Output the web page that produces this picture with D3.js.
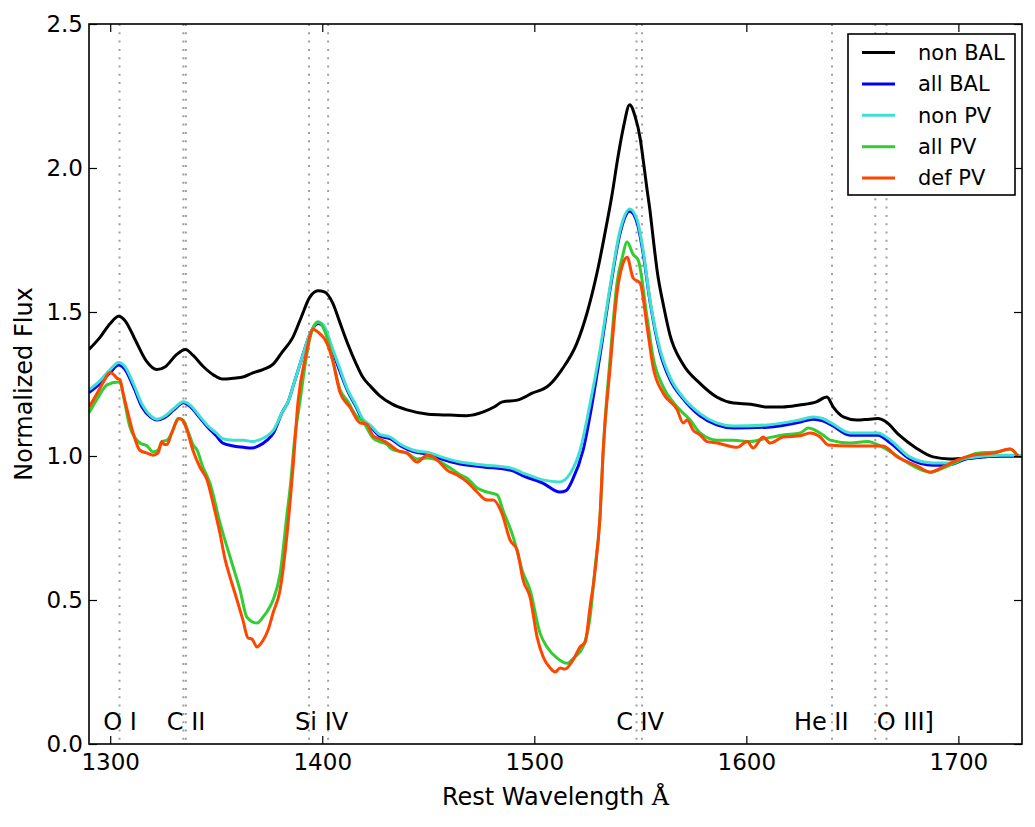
<!DOCTYPE html>
<html lang="en">
<head>
  <meta charset="UTF-8">
  <title>Composite spectra</title>
  <script src="https://cdn.jsdelivr.net/npm/d3@7"></script>
  <style>
    body { margin: 0; background: #fff; }
    text { font-family: "DejaVu Sans", sans-serif; fill: #000; }
  </style>
</head>
<body>
<svg id="chart" width="1035" height="827"></svg>
<script>
// [rest wavelength (A), normalized flux]
const nonBAL = [[1290,1.37],[1295,1.41],[1300,1.46],[1304,1.485],[1307,1.47],[1312,1.40],[1317,1.33],[1322,1.30],[1326,1.31],[1331,1.35],[1335.5,1.37],[1339,1.35],[1344,1.31],[1349,1.28],[1353,1.267],[1358,1.27],[1363,1.275],[1367,1.288],[1372,1.30],[1377,1.32],[1381,1.36],[1386,1.41],[1390,1.48],[1394,1.55],[1398,1.574],[1401,1.57],[1405,1.53],[1408,1.47],[1412,1.39],[1416,1.32],[1419,1.275],[1423,1.24],[1427,1.21],[1433,1.18],[1440,1.16],[1450,1.145],[1460,1.142],[1468,1.14],[1476,1.153],[1481,1.17],[1485,1.188],[1492,1.194],[1499,1.218],[1507,1.246],[1513,1.30],[1520,1.39],[1525,1.50],[1530,1.65],[1534,1.80],[1536.5,1.90],[1539.5,2.04],[1542,2.14],[1545,2.22],[1547.5,2.18],[1550,2.10],[1551.5,2.02],[1553,1.935],[1554.6,1.85],[1556,1.76],[1558,1.64],[1561,1.52],[1564,1.42],[1570,1.32],[1578,1.253],[1586,1.205],[1594,1.184],[1602,1.18],[1610,1.17],[1617,1.17],[1625,1.177],[1633,1.188],[1638,1.205],[1641,1.17],[1646,1.135],[1652,1.125],[1658,1.128],[1662,1.13],[1666,1.118],[1672,1.073],[1680,1.028],[1688,0.997],[1696,0.99],[1705,0.993],[1712,0.997],[1720,1.0],[1730,1.0]];

const allBAL = [[1290,1.22],[1295,1.25],[1300,1.29],[1304,1.316],[1307,1.30],[1311,1.24],[1315,1.17],[1319,1.135],[1322,1.125],[1326,1.135],[1330,1.16],[1334.5,1.185],[1338,1.17],[1342,1.135],[1346,1.10],[1350,1.07],[1353,1.045],[1358,1.035],[1363,1.03],[1367,1.028],[1370,1.035],[1374,1.055],[1377,1.08],[1381,1.15],[1384,1.19],[1387,1.26],[1390,1.33],[1394,1.42],[1398,1.46],[1401,1.445],[1404,1.385],[1408,1.30],[1412,1.225],[1416,1.17],[1419,1.125],[1423,1.10],[1427,1.07],[1432,1.06],[1437,1.035],[1443,1.015],[1451,1.005],[1456,0.99],[1465,0.972],[1476,0.962],[1489,0.95],[1495,0.93],[1504,0.906],[1512,0.875],[1515,0.88],[1518,0.917],[1523,1.02],[1527,1.17],[1531,1.35],[1536,1.59],[1540.5,1.775],[1545,1.85],[1548.5,1.81],[1551.3,1.705],[1554.6,1.535],[1559.3,1.36],[1564,1.265],[1570,1.20],[1578,1.14],[1586,1.108],[1594,1.097],[1610,1.10],[1625,1.117],[1631.5,1.128],[1636,1.122],[1640,1.108],[1649,1.072],[1662,1.072],[1668,1.045],[1677,0.99],[1688,0.968],[1696,0.97],[1704,0.99],[1720,1.0],[1730,1.0]];

const nonPV = [[1290,1.23],[1295,1.26],[1300,1.30],[1304,1.325],[1307,1.31],[1311,1.25],[1315,1.18],[1319,1.14],[1322,1.128],[1326,1.14],[1330,1.165],[1334.5,1.188],[1338,1.175],[1342,1.14],[1346,1.105],[1350,1.08],[1353,1.06],[1358,1.055],[1363,1.055],[1367,1.05],[1370,1.055],[1374,1.07],[1377,1.09],[1381,1.15],[1384,1.19],[1387,1.26],[1390,1.33],[1394,1.42],[1398,1.465],[1401,1.45],[1404,1.39],[1408,1.31],[1412,1.23],[1416,1.175],[1419,1.13],[1423,1.105],[1427,1.075],[1432,1.066],[1437,1.04],[1443,1.02],[1451,1.01],[1456,0.997],[1465,0.979],[1476,0.969],[1489,0.958],[1495,0.94],[1504,0.917],[1512,0.91],[1517,0.94],[1521.6,1.02],[1526,1.17],[1531,1.368],[1536,1.60],[1540.5,1.785],[1545,1.858],[1548.5,1.82],[1551.3,1.715],[1554.6,1.54],[1559.3,1.37],[1564,1.274],[1570,1.205],[1578,1.148],[1586,1.115],[1594,1.104],[1610,1.108],[1625,1.125],[1631.5,1.135],[1636,1.13],[1640,1.115],[1649,1.08],[1662,1.08],[1668,1.055],[1677,0.997],[1688,0.976],[1696,0.976],[1704,0.993],[1720,1.003],[1730,1.003]];

const allPV = [[1290,1.15],[1294,1.20],[1298.5,1.247],[1303.7,1.257],[1305,1.25],[1307,1.18],[1309.3,1.10],[1312,1.06],[1314,1.045],[1317.4,1.035],[1320.2,1.014],[1322.5,1.02],[1324.4,1.05],[1326.8,1.055],[1329,1.08],[1332,1.13],[1334.3,1.125],[1337,1.08],[1339,1.04],[1341,1.02],[1343.8,0.96],[1345.7,0.93],[1347,0.906],[1351.8,0.767],[1356.5,0.65],[1361.2,0.535],[1364.5,0.44],[1369.2,0.42],[1372,0.44],[1374,0.46],[1376.8,0.50],[1380.1,0.59],[1383.4,0.80],[1385,0.90],[1387,1.06],[1389.5,1.19],[1392,1.32],[1394.2,1.41],[1398,1.465],[1402.3,1.41],[1405,1.33],[1408.4,1.23],[1412,1.19],[1416,1.14],[1419.2,1.12],[1424,1.062],[1427,1.05],[1430.6,1.04],[1432,1.028],[1436.7,1.015],[1440,1.01],[1444.7,0.99],[1449.4,0.993],[1452.3,0.99],[1455.6,0.98],[1460,0.96],[1465,0.935],[1468.3,0.923],[1473,0.889],[1477.7,0.875],[1482.5,0.865],[1485.3,0.81],[1490,0.72],[1494.7,0.594],[1498,0.535],[1502.7,0.385],[1506,0.337],[1510.8,0.298],[1515.5,0.28],[1518.3,0.297],[1523,0.337],[1526.3,0.44],[1528.7,0.615],[1531,0.79],[1532.5,1.02],[1536,1.36],[1539,1.60],[1541.5,1.69],[1543.8,1.743],[1546.6,1.70],[1549,1.68],[1553.2,1.48],[1556,1.344],[1560.8,1.24],[1567.4,1.17],[1573.5,1.125],[1578.2,1.08],[1586.2,1.055],[1593.8,1.055],[1601.8,1.05],[1609.8,1.062],[1617.4,1.073],[1625.4,1.08],[1629.2,1.097],[1636.2,1.073],[1639.5,1.055],[1649,1.045],[1657,1.05],[1664.5,1.03],[1672.5,0.993],[1680.6,0.958],[1686.7,0.944],[1692.8,0.958],[1699.4,0.98],[1708.9,1.01],[1718.3,1.014],[1724.4,1.024],[1728,1.0]];

const defPV = [[1290,1.17],[1294,1.22],[1297,1.26],[1299.9,1.29],[1302,1.28],[1303.2,1.27],[1304.6,1.265],[1306,1.22],[1308,1.16],[1310.8,1.08],[1314,1.02],[1317.4,1.01],[1320.2,1.003],[1322.5,1.01],[1324.4,1.05],[1325.5,1.04],[1326.8,1.04],[1329,1.08],[1332.5,1.13],[1334,1.125],[1336.2,1.09],[1339,1.02],[1342.4,0.96],[1345.7,0.917],[1348.5,0.836],[1351.8,0.73],[1354.2,0.64],[1356.5,0.58],[1359.8,0.50],[1362.6,0.43],[1365,0.368],[1366.9,0.364],[1369.2,0.337],[1372.1,0.36],[1374.4,0.395],[1376.8,0.455],[1380.1,0.535],[1383.4,0.73],[1386.2,0.96],[1388.6,1.19],[1392,1.34],[1395.7,1.44],[1398,1.43],[1402.3,1.39],[1405,1.33],[1408.4,1.22],[1413,1.17],[1417.8,1.115],[1421.1,1.11],[1424,1.07],[1427,1.06],[1429.6,1.05],[1432,1.038],[1435.3,1.02],[1440,1.01],[1444.7,0.979],[1449.4,1.003],[1452.3,0.997],[1455.6,0.976],[1458.9,0.951],[1463.6,0.934],[1468.3,0.91],[1473,0.875],[1477.7,0.847],[1480.6,0.847],[1484.8,0.80],[1488.6,0.708],[1491.9,0.674],[1494.7,0.57],[1498,0.51],[1501.3,0.372],[1504.2,0.302],[1507.5,0.264],[1509.8,0.25],[1512.2,0.264],[1514.5,0.26],[1518.3,0.292],[1521.6,0.337],[1524,0.354],[1526.3,0.476],[1528.7,0.604],[1531,0.79],[1532.5,1.02],[1535.8,1.31],[1539,1.566],[1541.9,1.67],[1543.8,1.69],[1546.6,1.618],[1549.9,1.60],[1553.2,1.448],[1556,1.31],[1560.8,1.218],[1567.4,1.16],[1570.2,1.115],[1572.1,1.125],[1574.9,1.09],[1578.2,1.073],[1581.5,1.05],[1586.2,1.045],[1595.7,1.03],[1600.4,1.05],[1603.2,1.028],[1607.9,1.066],[1611.2,1.045],[1617.4,1.066],[1625.4,1.07],[1630.1,1.08],[1634.8,1.066],[1638.6,1.038],[1649,1.035],[1664.5,1.035],[1671.1,0.997],[1680.6,0.965],[1686.7,0.944],[1692.8,0.962],[1699.4,0.986],[1707,1.003],[1716.4,1.01],[1724.4,1.024],[1728,1.0]];

const seriesNames = ["non BAL", "all BAL", "non PV", "all PV", "def PV"];
const seriesColors = ["#000000", "#0000ff", "#40e0d0", "#32cd32", "#ff4500"];

// emission line wavelengths (dotted markers) and their labels
const lineWaves = [1304.4, 1334.5, 1335.7, 1393.75, 1402.77, 1548.2, 1550.8, 1640.4, 1660.8, 1666.1];
const lineLabels = ["O I", "C II", "Si IV", "C IV", "He II", "O III]"];
const lineLabelWaves = [1304.6, 1335.8, 1399.7, 1549.9, 1635.3, 1675];

const xTicks = [1300, 1400, 1500, 1600, 1700];
const yTicks = [0, 0.5, 1.0, 1.5, 2.0, 2.5];

const margin = {top: 24, right: 13, bottom: 83, left: 89};
const W = 1035, H = 827;
const w = W - margin.left - margin.right;
const h = H - margin.top - margin.bottom;

const svg = d3.select("#chart");
const g = svg.append("g").attr("transform", `translate(${margin.left},${margin.top})`);

const x = d3.scaleLinear().domain([1290, 1730]).range([0, w]);
const y = d3.scaleLinear().domain([0, 2.5]).range([h, 0]);

g.append("clipPath").attr("id", "plot-clip")
  .append("rect").attr("width", w).attr("height", h);

const plot = g.append("g").attr("clip-path", "url(#plot-clip)");

// dotted line markers
plot.selectAll("line.marker")
  .data(lineWaves)
  .enter()
  .append("line")
  .attr("class", "marker")
  .attr("x1", d => x(d)).attr("x2", d => x(d))
  .attr("y1", 0).attr("y2", h)
  .attr("stroke", "#a0a0a0")
  .attr("stroke-width", 2)
  .attr("stroke-dasharray", "2,6.3");

const series = [nonBAL, allBAL, nonPV, allPV, defPV].map((values, i) => ({
  name: seriesNames[i], color: seriesColors[i], values
}));

const line = d3.line()
  .x(d => x(d[0]))
  .y(d => y(d[1]))
  .curve(d3.curveMonotoneX);

plot.selectAll("path.spec")
  .data(series)
  .enter()
  .append("path")
  .attr("class", "spec")
  .attr("d", d => line(d.values))
  .attr("fill", "none")
  .attr("stroke", d => d.color)
  .attr("stroke-width", 3)
  .attr("stroke-linejoin", "round");

// line labels
g.selectAll("text.line-label")
  .data(lineLabels)
  .enter()
  .append("text")
  .attr("class", "line-label")
  .attr("x", (d, i) => x(lineLabelWaves[i]))
  .attr("y", y(0.048))
  .attr("text-anchor", "middle")
  .attr("font-size", 24)
  .text(d => d);

// axes, ticks pointing inward on all four sides
const xAxis = d3.axisBottom(x).tickValues(xTicks).tickSize(-8).tickPadding(10).tickFormat(d3.format("d"));
const yAxis = d3.axisLeft(y).tickValues(yTicks).tickSize(-8).tickPadding(6).tickFormat(d3.format(".1f"));

const gx = g.append("g").attr("transform", `translate(0,${h})`).call(xAxis);
const gy = g.append("g").call(yAxis);
g.append("g").call(d3.axisTop(x).tickValues(xTicks).tickSize(-8).tickFormat(""));
g.append("g").attr("transform", `translate(${w},0)`).call(d3.axisRight(y).tickValues(yTicks).tickSize(-8).tickFormat(""));

g.selectAll(".domain").remove();
g.selectAll(".tick line").attr("stroke", "#000").attr("stroke-width", 1.2);
gx.selectAll(".tick text").attr("font-size", 23).attr("font-family", "DejaVu Sans");
gy.selectAll(".tick text").attr("font-size", 23).attr("font-family", "DejaVu Sans");

g.append("rect")
  .attr("width", w).attr("height", h)
  .attr("fill", "none")
  .attr("stroke", "#000")
  .attr("stroke-width", 1.6);

// axis titles
const xt = g.append("text")
  .attr("x", w / 2).attr("y", h + 61)
  .attr("text-anchor", "middle")
  .attr("font-size", 24);
xt.append("tspan").text("Rest Wavelength ");
xt.append("tspan").attr("font-family", "DejaVu Serif").text("Å");

g.append("text")
  .attr("transform", `translate(${32 - margin.left},${h / 2}) rotate(-90)`)
  .attr("text-anchor", "middle")
  .attr("font-size", 24)
  .text("Normalized Flux");

// legend
const legend = g.append("g").attr("transform", `translate(${848 - margin.left},${34 - margin.top})`);
legend.append("rect")
  .attr("width", 167).attr("height", 161)
  .attr("fill", "#fff")
  .attr("stroke", "#000")
  .attr("stroke-width", 1.6);

const item = legend.selectAll("g.item")
  .data(series)
  .enter()
  .append("g")
  .attr("class", "item")
  .attr("transform", (d, i) => `translate(0,${18.5 + i * 31.4})`);

item.append("line")
  .attr("x1", 14).attr("x2", 47)
  .attr("stroke", d => d.color)
  .attr("stroke-width", 3);

item.append("text")
  .attr("x", 70)
  .attr("dy", "0.35em")
  .attr("font-size", 21)
  .text(d => d.name);
</script>
</body>
</html>
